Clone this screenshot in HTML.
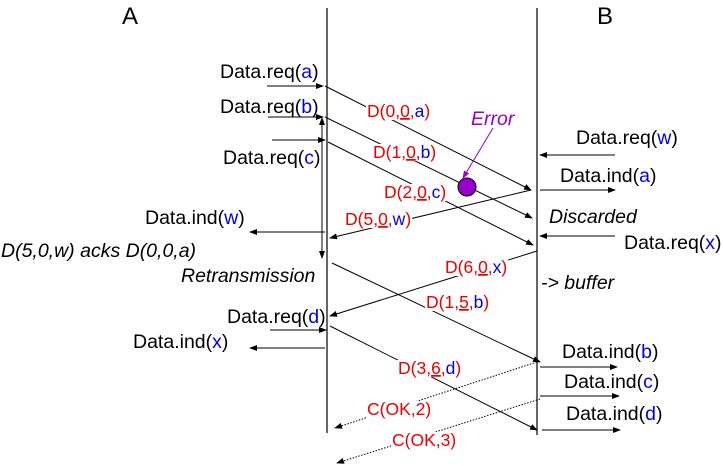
<!DOCTYPE html>
<html><head><meta charset="utf-8"><style>
body{margin:0;background:#fff}
svg{display:block;font-family:"Liberation Sans",Arial,sans-serif;font-size:19.5px}
.r{fill:#e00}.b{fill:#00e}.i{font-style:italic}
.lbl{font-size:17.5px}
</style></head><body>
<svg id="dg" width="723" height="466" viewBox="0 0 723 466">
<defs><marker id="ar" markerWidth="8" markerHeight="6" refX="7" refY="3" orient="auto"><path d="M0,0L8,3L0,6z" fill="#000"/></marker>
<marker id="ap" markerWidth="8" markerHeight="6" refX="7" refY="3" orient="auto"><path d="M0,0L8,3L0,6z" fill="#90c"/></marker>
<marker id="as" markerWidth="8" markerHeight="6" refX="1" refY="3" orient="auto"><path d="M8,0L0,3L8,6z" fill="#000"/></marker></defs>
<g stroke="#000" stroke-width="1.2" fill="none">
<line x1="327" y1="8" x2="327" y2="433"/>
<line x1="537" y1="8" x2="537" y2="435"/>
<g marker-end="url(#ar)" stroke-width="1">
<line x1="267" y1="86" x2="323" y2="86"/>
<line x1="268" y1="117" x2="323" y2="117"/>
<line x1="272" y1="140" x2="325" y2="140"/>
<line x1="325" y1="86" x2="531" y2="190"/>
<line x1="325" y1="117" x2="532" y2="218"/>
<line x1="328" y1="142" x2="533" y2="245"/>
<line x1="531" y1="190" x2="330" y2="238"/>
<line x1="325" y1="232" x2="250" y2="232"/>
<line x1="615" y1="155" x2="540" y2="155"/>
<line x1="540" y1="190" x2="615" y2="190"/>
<line x1="615" y1="236" x2="540" y2="236"/>
<line x1="537" y1="251" x2="330" y2="316"/>
<line x1="332" y1="263" x2="540" y2="362"/>
<line x1="270" y1="330" x2="326" y2="330"/>
<line x1="330" y1="326" x2="537" y2="430"/>
<line x1="325" y1="348" x2="250" y2="348"/>
<line x1="540" y1="367" x2="617" y2="367"/>
<line x1="540" y1="396" x2="619" y2="396"/>
<line x1="542" y1="430" x2="620" y2="430"/>
<line x1="322" y1="118" x2="322" y2="258" marker-start="url(#as)"/>
<line x1="537" y1="362" x2="335" y2="428" stroke-dasharray="1.5,1.5"/>
<line x1="540" y1="399" x2="337" y2="463" stroke-dasharray="1.5,1.5"/>
</g></g>
<line x1="493" y1="128" x2="463" y2="178" stroke="#90c" marker-end="url(#ap)"/>
<circle cx="467" cy="187" r="9" fill="#90c" stroke="#000"/>
<text x="122" y="24" font-size="24">A</text>
<text x="597" y="24" font-size="24">B</text>
<text x="220" y="78">Data.req(<tspan class="b">a</tspan>)</text>
<text x="220" y="113">Data.req(<tspan class="b">b</tspan>)</text>
<text x="223" y="164">Data.req(<tspan class="b">c</tspan>)</text>
<text x="145" y="224">Data.ind(<tspan class="b">w</tspan>)</text>
<text x="1" y="257" class="i">D(5,0,w) acks D(0,0,a)</text>
<text x="181" y="282" class="i">Retransmission</text>
<text x="227" y="323">Data.req(<tspan class="b">d</tspan>)</text>
<text x="133" y="348">Data.ind(<tspan class="b">x</tspan>)</text>
<text x="471" y="125" class="i" fill="#90c">Error</text>
<text x="576" y="144">Data.req(<tspan class="b">w</tspan>)</text>
<text x="560" y="182">Data.ind(<tspan class="b">a</tspan>)</text>
<text x="549" y="223" class="i">Discarded</text>
<text x="624" y="249">Data.req(<tspan class="b">x</tspan>)</text>
<text x="541" y="289" class="i">-&gt; buffer</text>
<text x="562" y="358">Data.ind(<tspan class="b">b</tspan>)</text>
<text x="564" y="388">Data.ind(<tspan class="b">c</tspan>)</text>
<text x="566" y="420">Data.ind(<tspan class="b">d</tspan>)</text>
<g id="lbls" class="r lbl">
<text x="367" y="117">D(0,<tspan text-decoration="underline">0</tspan>,<tspan class="b">a</tspan>)</text>
<text x="373" y="158">D(1,<tspan text-decoration="underline">0</tspan>,<tspan class="b">b</tspan>)</text>
<text x="384" y="198">D(2,<tspan text-decoration="underline">0</tspan>,<tspan class="b">c</tspan>)</text>
<text x="345" y="225">D(5,<tspan text-decoration="underline">0</tspan>,<tspan class="b">w</tspan>)</text>
<text x="445" y="273">D(6,<tspan text-decoration="underline">0</tspan>,<tspan class="b">x</tspan>)</text>
<text x="426" y="308">D(1,<tspan text-decoration="underline">5</tspan>,<tspan class="b">b</tspan>)</text>
<text x="398" y="374">D(3,<tspan text-decoration="underline">6</tspan>,<tspan class="b">d</tspan>)</text>
<text x="367" y="415">C(OK,2)</text>
<text x="392" y="446">C(OK,3)</text>
</g>
</svg>
<script>
var g=document.getElementById('lbls');
Array.prototype.slice.call(g.querySelectorAll('text')).forEach(function(t){
var bb=t.getBBox();
var r=document.createElementNS('http://www.w3.org/2000/svg','rect');


r.setAttribute('x',bb.x-1);r.setAttribute('y',bb.y+2);
r.setAttribute('width',bb.width+2);r.setAttribute('height',bb.height-3);
r.setAttribute('fill','#fff');
g.insertBefore(r,t);
});
</script>
</body></html>
